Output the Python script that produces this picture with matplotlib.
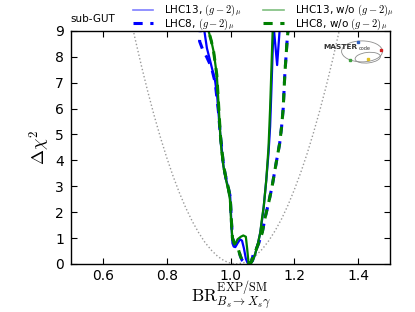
import matplotlib
matplotlib.use("Agg")
import matplotlib.pyplot as plt
from matplotlib.patches import Ellipse
from matplotlib.lines import Line2D

plt.rcParams['mathtext.fontset'] = 'cm'
plt.rcParams['font.family'] = ['DejaVu Sans']

# ---- data ----
par_x = [0.68, 0.70, 0.72, 0.74, 0.76, 0.78, 0.80, 0.82, 0.84, 0.86, 0.88, 0.90, 0.92, 0.94, 0.96, 0.98,
         1.00, 1.02, 1.04, 1.06, 1.08, 1.10, 1.12, 1.14, 1.16, 1.18, 1.20, 1.22, 1.24, 1.26, 1.28, 1.30,
         1.32, 1.34, 1.36]
par_y = [9.89, 8.75, 7.69, 6.69, 5.76, 4.90, 4.11, 3.39, 2.74, 2.16, 1.65, 1.21, 0.83, 0.53, 0.29, 0.125,
         0.028, 0.0, 0.042, 0.15, 0.33, 0.58, 0.90, 1.29, 1.74, 2.27, 2.87, 3.53, 4.26, 5.07, 5.94, 6.88,
         7.89, 8.97, 10.12]

lhc13_g2_x = [0.915, 0.918, 0.926, 0.935, 0.942, 0.952, 0.958, 0.962, 0.968, 0.972, 0.978, 0.985, 0.992,
              0.999, 1.003, 1.006, 1.010, 1.015, 1.022, 1.030, 1.036, 1.042, 1.048, 1.053, 1.058, 1.064,
              1.070, 1.078, 1.086, 1.093, 1.100, 1.104, 1.112, 1.119, 1.124, 1.128, 1.132, 1.135, 1.146,
              1.156]
lhc13_g2_y = [9.3, 9.0, 8.33, 7.9, 7.55, 7.04, 6.5, 5.88, 4.98, 4.5, 3.76, 3.3, 3.0,
              2.6, 1.5, 0.8, 0.67, 0.65, 0.8, 0.95, 0.9, 0.6, 0.2, 0.05, 0.0, 0.03,
              0.12, 0.42, 0.8, 1.2, 1.8, 2.21, 3.24, 4.27, 5.3, 6.7, 8.2, 9.2, 7.68,
              9.4]

lhc8_g2_x = [0.906, 0.903, 0.912, 0.925, 0.940, 0.952, 0.962, 0.968, 0.978, 0.986, 0.992, 0.999, 1.003,
             1.006, 1.012, 1.018, 1.025, 1.031, 1.036, 1.042, 1.048, 1.054, 1.060, 1.066, 1.072, 1.080,
             1.088, 1.099, 1.109, 1.119, 1.130, 1.141, 1.154, 1.160, 1.165, 1.170, 1.177, 1.180, 1.182]
lhc8_g2_y = [9.3, 8.6, 8.3, 8.0, 7.6, 7.0, 5.9, 5.0, 3.8, 3.3, 3.0, 2.6, 1.6,
             1.0, 0.8, 0.7, 0.54, 0.3, 0.15, 0.08, 0.1, 0.06, 0.03, 0.1, 0.41, 0.55,
             0.8, 1.19, 1.83, 2.34, 2.98, 3.76, 4.66, 5.3, 6.0, 7.3, 8.58, 9.0, 9.3]

lhc13_nog2_x = [0.928, 0.931, 0.940, 0.947, 0.957, 0.962, 0.968, 0.972, 0.978, 0.985, 0.992, 0.998,
                1.002, 1.006, 1.012, 1.016, 1.022, 1.032, 1.040, 1.048, 1.052, 1.056, 1.060, 1.066,
                1.072, 1.078, 1.086, 1.093, 1.099, 1.104, 1.112, 1.119, 1.124, 1.128, 1.132, 1.134]
lhc13_nog2_y = [9.3, 9.0, 8.6, 8.2, 7.3, 6.27, 4.98, 4.3, 3.76, 3.3, 2.9, 2.5,
                1.6, 0.95, 0.75, 0.8, 0.95, 1.05, 1.1, 1.05, 0.6, 0.1, 0.0, 0.05,
                0.2, 0.42, 0.8, 1.2, 1.8, 2.21, 3.24, 4.5, 6.0, 7.5, 9.0, 9.5]

lhc8_nog2_x = [0.928, 0.931, 0.940, 0.947, 0.957, 0.962, 0.968, 0.978, 0.986, 0.992, 0.999, 1.003,
               1.006, 1.012, 1.018, 1.025, 1.031, 1.036, 1.042, 1.048, 1.054, 1.060, 1.066, 1.072,
               1.080, 1.088, 1.099, 1.109, 1.119, 1.130, 1.141, 1.154, 1.160, 1.165, 1.170, 1.177,
               1.180, 1.182]
lhc8_nog2_y = [9.3, 9.0, 8.6, 8.2, 7.3, 6.27, 5.0, 3.8, 3.3, 3.0, 2.6, 1.6,
               1.0, 0.8, 0.7, 0.54, 0.3, 0.15, 0.08, 0.1, 0.06, 0.03, 0.1, 0.41,
               0.55, 0.8, 1.19, 1.83, 2.34, 2.98, 3.76, 4.66, 5.3, 6.0, 7.3, 8.58,
               9.0, 9.3]

xticks = [0.6, 0.8, 1.0, 1.2, 1.4]
yticks = [0, 1, 2, 3, 4, 5, 6, 7, 8, 9]
labels = [r"LHC13, $(g-2)_\mu$", r"LHC8, $(g-2)_\mu$",
          r"LHC13, w/o $(g-2)_\mu$", r"LHC8, w/o $(g-2)_\mu$"]

# ---- figure ----
fig = plt.figure(figsize=(4.15, 3.12), dpi=100)
ax = fig.add_axes([0.171, 0.154, 0.769, 0.747])

ax.plot(par_x, par_y, color='0.6', linestyle=':', linewidth=1.0)
ax.plot(lhc13_g2_x, lhc13_g2_y, color='b', linewidth=1.6)
ax.plot(lhc8_g2_x, lhc8_g2_y, color='b', linewidth=2.2, linestyle=(0, (3, 2.5)))
ax.plot(lhc13_nog2_x, lhc13_nog2_y, color='g', linewidth=1.6)
ax.plot(lhc8_nog2_x, lhc8_nog2_y, color='g', linewidth=2.2, linestyle=(1.5, (3, 2.5)))

ax.set_xlim(0.5, 1.5)
ax.set_ylim(0, 9)
ax.set_xticks(xticks)
ax.set_xticklabels(["%.1f" % v for v in xticks])
ax.set_yticks(yticks)
ax.tick_params(direction='in', top=True, right=True, length=4, width=0.8, labelsize=10)
ax.tick_params(axis='x', pad=3.5)
ax.tick_params(axis='y', pad=5)
for sp in ax.spines.values():
    sp.set_linewidth(1.0)

ax.set_xlabel(r"$\mathrm{BR}^{\mathrm{EXP/SM}}_{B_s\to X_s\gamma}$", fontsize=12.5, labelpad=-2)
ax.set_ylabel(r"$\Delta\chi^2$", fontsize=13, labelpad=2)

handles = [Line2D([], [], color='b', linewidth=1.2, alpha=0.5),
           Line2D([], [], color='b', linewidth=2.2, linestyle=(0, (3, 2.5))),
           Line2D([], [], color='g', linewidth=1.2, alpha=0.5),
           Line2D([], [], color='g', linewidth=2.2, linestyle=(0, (3, 2.5)))]
ax.legend(handles, labels, loc='lower left', bbox_to_anchor=(0.193, 0.995), ncol=2,
          frameon=False, fontsize=7.5, handlelength=1.95, handletextpad=1.1,
          columnspacing=2.1, labelspacing=-0.15, borderpad=0.0, borderaxespad=0)

fig.text(70 / 415, 1 - 19 / 312, "sub-GUT", fontsize=7.5, ha='left', va='center')

# MasterCode logo
ax.add_patch(Ellipse((0.912, 0.912), 0.128, 0.09, transform=ax.transAxes, fill=False,
                     edgecolor='0.55', linewidth=0.6))
ax.add_patch(Ellipse((0.93, 0.885), 0.08, 0.045, angle=10, transform=ax.transAxes, fill=False,
                     edgecolor='0.55', linewidth=0.6))
ax.text(0.79, 0.93, "MASTER", transform=ax.transAxes, fontsize=5.3, fontweight='bold',
        ha='left', va='center', color='0.2')
ax.text(0.902, 0.925, "code", transform=ax.transAxes, fontsize=3.6, ha='left', va='center', color='0.2')
ax.plot([0.900], [0.952], 's', color='#3060c0', markersize=2, transform=ax.transAxes)
ax.plot([0.972], [0.918], 's', color='#d02020', markersize=2, transform=ax.transAxes)
ax.plot([0.875], [0.875], 's', color='#40a040', markersize=2, transform=ax.transAxes)
ax.plot([0.930], [0.880], 's', color='#e0c020', markersize=2, transform=ax.transAxes)

fig.savefig("out.png", dpi=100)
